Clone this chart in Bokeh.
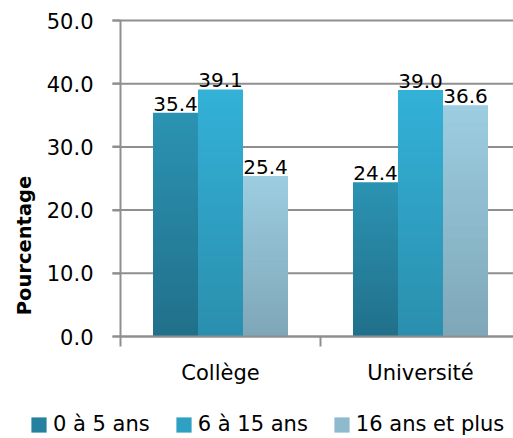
import math
from bokeh.plotting import figure
from bokeh.models import (ColumnDataSource, Range1d, FixedTicker, PrintfTickFormatter,
                          Legend, LegendItem, Label)
from bokeh.embed import file_html
from bokeh.resources import INLINE
from bokeh.core.properties import value

# ---- data ----
categories = ["Collège", "Université"]
series_names = ["0 à 5 ans", "6 à 15 ans", "16 ans et plus"]
values_0_5 = [35.4, 24.4]
values_6_15 = [39.1, 39.0]
values_16_plus = [25.4, 36.6]
y_ticks = [0, 10, 20, 30, 40, 50]

series_values = [values_0_5, values_6_15, values_16_plus]

# ---- style ----
FONT = "DejaVu Sans"
top_colors = ["#2b93b2", "#33b1d8", "#9ccde0"]
bottom_colors = ["#21708a", "#2a8fad", "#7ea7b8"]
offsets = [-0.225, 0.0, 0.225]
bar_w = 0.225
grey = "#8f8f8f"

W, H = 513, 438
# plot area in pixels: left 120, right 513, top 20, bottom 336
PX_X = 200.0          # px per category unit
PX_Y = 316.0 / 50.0   # px per percent
x_start = -120 / PX_X
x_end = (W - 120) / PX_X
y_end = 50 + 20 / PX_Y
y_start = -(H - 336) / PX_Y


def hex2rgb(h):
    h = h.lstrip("#")
    return tuple(int(h[i:i + 2], 16) for i in (0, 2, 4))


def lerp(c0, c1, t):
    a, b = hex2rgb(c0), hex2rgb(c1)
    return "#%02x%02x%02x" % tuple(int(round(a[i] + (b[i] - a[i]) * t)) for i in range(3))


centers = [i + 0.5 for i in range(len(categories))]

p = figure(width=W, height=H, output_backend="svg", toolbar_location=None,
           x_range=Range1d(x_start, x_end), y_range=Range1d(y_start, y_end),
           min_border_left=0, min_border_right=0, min_border_top=0,
           min_border_bottom=0)
p.outline_line_color = None
p.background_fill_color = "white"
p.border_fill_color = "white"
p.xgrid.grid_line_color = None
p.ygrid.grid_line_color = None

# horizontal gridlines at the y ticks (from the tick start to the right edge)
p.segment(x0=[-8 / PX_X] * len(y_ticks), x1=[x_end] * len(y_ticks),
          y0=y_ticks, y1=y_ticks, line_color=grey, line_width=2)

# gradient bars: overlapping bars from tallest to shortest
N = 40
legend_items = []
for s, vals in enumerate(series_values):
    xs, tops, cols = [], [], []
    for k in range(N, 0, -1):
        f = k / N
        c = lerp(bottom_colors[s], top_colors[s], (k - 0.5) / N)
        for ci, v in enumerate(vals):
            xs.append(centers[ci] + offsets[s])
            tops.append(v * f)
            cols.append(c)
    src = ColumnDataSource(dict(x=xs, top=tops, color=cols))
    r = p.vbar(x="x", top="top", bottom=0, width=bar_w, source=src,
               fill_color="color", line_color=None)
    # legend swatch uses a mid-gradient row of the bar renderer
    legend_items.append(LegendItem(label=series_names[s], renderers=[r],
                                   index=(N // 2) * len(vals)))

    # value labels
    lab_src = ColumnDataSource(dict(
        x=[centers[ci] + offsets[s] for ci in range(len(vals))],
        y=vals,
        t=["%.1f" % v for v in vals]))
    p.text(x="x", y="y", text="t", source=lab_src, text_align="center",
           text_baseline="alphabetic", y_offset=-9, text_font=value(FONT),
           text_font_size="20px", text_color="black")

# y axis
yax = p.yaxis[0]
yax.fixed_location = 0
yax.bounds = (0, 50)
yax.ticker = FixedTicker(ticks=y_ticks, minor_ticks=[])
yax.formatter = PrintfTickFormatter(format="%.1f")
yax.major_label_text_font = FONT
yax.major_label_text_font_size = "21px"
yax.major_label_text_color = "black"
yax.major_tick_out = 8
yax.major_tick_in = 0
yax.major_label_standoff = 19
yax.axis_line_color = grey
yax.axis_line_width = 2
yax.major_tick_line_color = grey
yax.major_tick_line_width = 2

# x axis
xax = p.xaxis[0]
xax.fixed_location = 0
xax.bounds = (0, x_end)
xax.ticker = FixedTicker(ticks=centers, minor_ticks=[0, 1, 2])
xax.major_label_overrides = {c: n for c, n in zip(centers, categories)}
xax.major_label_text_font = FONT
xax.major_label_text_font_size = "21px"
xax.major_label_text_color = "black"
xax.major_tick_out = 0
xax.major_tick_in = 0
xax.minor_tick_out = 10
xax.minor_tick_in = 0
xax.minor_tick_line_color = grey
xax.minor_tick_line_width = 2
xax.major_label_standoff = 14
xax.axis_line_color = grey
xax.axis_line_width = 2

# y axis title
p.add_layout(Label(x=-96.5 / PX_X, y=(336 - 245) / PX_Y, text="Pourcentage",
                   angle=math.pi / 2, text_align="center", text_baseline="middle",
                   text_font=FONT, text_font_size="19.5px", text_font_style="bold",
                   text_color="black"))

legend = Legend(items=legend_items, orientation="horizontal", location=(29, 2),
                glyph_width=19, glyph_height=19, label_standoff=5, spacing=24,
                padding=0, margin=0, border_line_color=None,
                background_fill_alpha=0, label_text_font=FONT,
                label_text_font_size="21px", label_text_color="black",
                label_height=21)
p.add_layout(legend, "center")

open("out.html", "w").write(file_html(p, INLINE))
